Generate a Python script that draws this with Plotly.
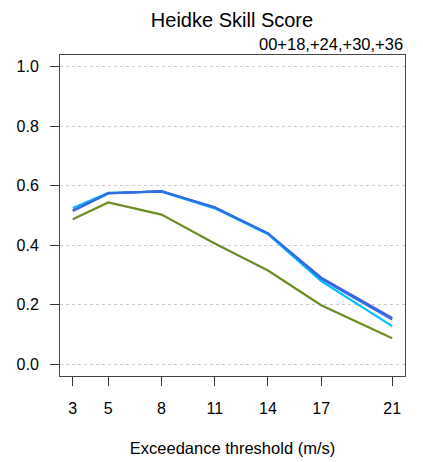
import plotly.graph_objects as go

thresholds = [3, 5, 8, 11, 14, 17, 21]
series_green = [0.487, 0.544, 0.503, 0.406, 0.315, 0.198, 0.087]
series_cyan = [0.525, 0.576, 0.580, 0.524, 0.437, 0.279, 0.128]
series_blue = [0.515, 0.574, 0.582, 0.527, 0.440, 0.287, 0.150]
series_slate = [0.517, 0.575, 0.581, 0.528, 0.440, 0.291, 0.155]
yticks = [0.0, 0.2, 0.4, 0.6, 0.8, 1.0]

series = [
    ("green", series_green, "#6B8E23"),
    ("cyan", series_cyan, "#00BFFF"),
    ("slate", series_slate, "#4B5FD8"),
    ("blue", series_blue, "#2A6FE6"),
]

fig = go.Figure()
for name, vals, col in series:
    fig.add_trace(go.Scatter(x=thresholds, y=vals, mode="lines", name=name,
                             line=dict(color=col, width=2.2), showlegend=False))

font = "Liberation Sans, Arial, Helvetica, sans-serif"
W, H = 415, 454
fig.update_layout(
    width=W, height=H,
    margin=dict(l=52, r=18, t=47, b=86, autoexpand=False),
    paper_bgcolor="white", plot_bgcolor="white",
    font=dict(family=font, size=16, color="black"),
    title=dict(text="Heidke Skill Score", x=224 / W, xanchor="center", y=1 - 12 / H,
               yanchor="middle", font=dict(size=20, family=font)),
    annotations=[dict(text="00+18,+24,+30,+36", xref="paper", yref="paper",
                      x=1.0, y=1.0, xanchor="right", yanchor="bottom", yshift=0,
                      showarrow=False, font=dict(size=16.5, family=font))],
    xaxis=dict(range=[2.28, 21.72], tickvals=thresholds, ticktext=[str(t) for t in thresholds],
               ticks="outside", ticklen=9, tickcolor="#333", showgrid=False, zeroline=False,
               showline=True, linecolor="#444", linewidth=1, mirror=True,
               ticklabelstandoff=9, automargin=False, tickfont=dict(size=16),
               title=dict(text="Exceedance threshold (m/s)", font=dict(size=16.5, family=font), standoff=26)),
    yaxis=dict(range=[-0.04, 1.04], tickvals=yticks, ticktext=[f"{v:.1f}" for v in yticks],
               ticks="outside", ticklen=9, tickcolor="#333", showgrid=True,
               gridcolor="#cccccc", griddash="dot", gridwidth=1, zeroline=False,
               showline=True, linecolor="#444", linewidth=1, mirror=True,
               ticklabelstandoff=8, automargin=False, tickfont=dict(size=16)),
)

fig.write_html("out.html")
